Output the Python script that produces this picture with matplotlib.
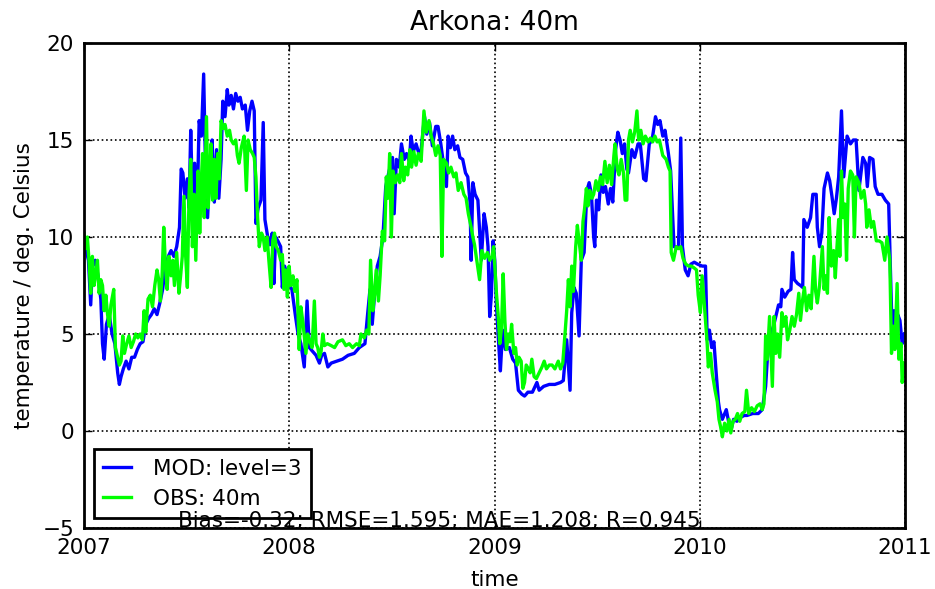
import numpy as np
import matplotlib
matplotlib.use('Agg')
import matplotlib.pyplot as plt
import matplotlib.dates as mdates

# model (level 3) and observed temperature at 40m, days since 2007-01-01
mod_days = [0, 4, 8, 12, 15, 20, 25, 30, 33, 36, 40, 45, 50, 55, 60, 63, 66, 70, 75, 80,
            85, 90, 95, 100, 105, 110, 115, 120, 125, 130, 135, 140, 145, 150, 155, 160, 165, 170, 173, 176,
            180, 184, 187, 190, 193, 197, 201, 205, 209, 213, 216, 220, 224, 228, 232, 236, 240, 244, 247, 251,
            255, 258, 262, 266, 270, 274, 278, 282, 287, 291, 295, 299, 303, 306, 310, 315, 319, 322, 327, 331,
            335, 338, 341, 345, 350, 353, 357, 362, 366, 370, 376, 381, 386, 392, 397, 401, 407, 413, 419, 423,
            428, 434, 440, 450, 460, 470, 481, 490, 500, 505, 509, 513, 517, 522, 527, 532, 537, 543, 549, 552,
            556, 561, 565, 570, 574, 579, 582, 586, 591, 596, 600, 606, 610, 615, 620, 626, 630, 635, 645, 648,
            652, 656, 660, 665, 669, 674, 679, 683, 687, 689, 692, 696, 701, 707, 712, 716, 719, 722, 725, 728,
            731, 734, 738, 741, 745, 750, 757, 763, 768, 773, 779, 784, 790, 798, 806, 810, 818, 828, 838, 848,
            853, 859, 865, 868, 872, 876, 881, 885, 890, 895, 899, 903, 907, 909, 912, 916, 920, 924, 928, 933,
            937, 941, 946, 950, 954, 958, 962, 966, 969, 975, 980, 986, 990, 996, 1000, 1006, 1011, 1017, 1021, 1025,
            1030, 1034, 1040, 1044, 1047, 1050, 1058, 1062, 1065, 1070, 1075, 1080, 1086, 1092, 1100, 1106, 1109, 1113, 1117, 1121,
            1125, 1129, 1131, 1136, 1143, 1147, 1151, 1156, 1162, 1168, 1175, 1180, 1190, 1200, 1207, 1213, 1216, 1222, 1227, 1236,
            1240, 1242, 1247, 1253, 1258, 1261, 1264, 1270, 1275, 1279, 1281, 1287, 1293, 1297, 1303, 1305, 1309, 1313, 1317, 1323,
            1327, 1331, 1335, 1339, 1343, 1348, 1352, 1358, 1364, 1369, 1374, 1376, 1379, 1386, 1391, 1394, 1398, 1404, 1408, 1413,
            1420, 1426, 1432, 1436, 1439, 1442, 1445, 1448, 1452, 1456, 1460]
mod_temp = [9.8, 9.3, 8.8, 6.5, 8.5, 8.8, 8.0, 6.8, 4.5, 3.7, 5.5, 6.0, 5.0, 4.5, 3.0, 2.4, 2.8, 3.2, 3.6, 3.2,
            3.8, 3.8, 4.2, 4.5, 4.6, 5.5, 5.8, 6.0, 6.3, 6.0, 6.6, 7.3, 8.5, 9.0, 9.3, 9.0, 9.5, 10.5, 13.5, 13.3,
            12.0, 13.0, 11.5, 15.5, 12.0, 13.8, 11.0, 16.0, 15.2, 18.4, 14.0, 11.0, 13.5, 15.0, 11.8, 14.5, 12.0, 14.0, 17.0, 16.2,
            17.6, 16.8, 17.3, 16.6, 17.4, 17.0, 17.2, 16.6, 16.8, 15.5, 16.5, 17.0, 16.5, 10.7, 11.5, 11.9, 15.9, 10.9, 10.0, 9.6,
            10.2, 7.6, 10.0, 9.8, 9.5, 7.4, 8.5, 8.0, 7.5, 7.3, 6.0, 5.0, 4.5, 3.3, 6.7, 4.3, 4.1, 3.9, 3.5, 3.9,
            4.0, 3.3, 3.5, 3.6, 3.7, 3.9, 4.0, 4.3, 4.5, 6.1, 7.3, 5.5, 7.0, 8.5, 9.0, 10.0, 12.6, 13.4, 14.1, 11.2,
            14.0, 13.6, 14.8, 14.0, 14.3, 13.9, 15.2, 14.4, 14.8, 14.3, 14.5, 16.2, 15.3, 15.9, 14.7, 15.7, 15.7, 14.8, 12.6, 15.2,
            14.6, 15.2, 14.5, 14.7, 14.1, 14.0, 13.3, 13.1, 11.8, 8.8, 12.8, 12.2, 11.9, 8.8, 11.2, 10.5, 9.5, 5.9, 7.0, 9.8,
            8.8, 6.5, 4.5, 3.1, 5.2, 4.2, 4.3, 3.7, 3.5, 2.1, 1.9, 1.8, 2.0, 2.0, 2.5, 2.1, 2.3, 2.4, 2.4, 2.5,
            2.6, 4.7, 2.1, 6.1, 7.4, 7.1, 4.9, 8.8, 9.2, 12.4, 12.8, 12.2, 10.0, 9.5, 11.9, 11.4, 13.2, 12.3, 12.6, 11.7,
            12.5, 11.8, 14.5, 15.4, 15.0, 14.3, 14.8, 13.5, 13.3, 14.5, 14.1, 14.8, 14.8, 13.0, 12.9, 14.8, 15.0, 16.2, 15.8, 16.0,
            15.2, 15.5, 14.3, 13.4, 11.5, 9.5, 9.5, 15.1, 9.5, 8.3, 8.0, 8.6, 8.7, 8.6, 8.5, 8.5, 4.7, 5.2, 4.3, 4.6,
            3.0, 1.5, 1.1, 0.6, 1.1, 0.5, 0.0, 0.6, 0.5, 0.7, 0.8, 0.8, 0.9, 0.9, 1.1, 2.3, 3.7, 5.0, 5.4, 6.5,
            6.4, 7.3, 6.9, 7.2, 7.3, 9.2, 7.8, 7.6, 7.5, 7.4, 10.9, 10.5, 11.0, 12.2, 12.2, 10.5, 9.5, 10.2, 12.5, 13.3,
            12.9, 12.1, 11.2, 12.0, 13.1, 16.5, 13.1, 15.2, 14.8, 15.0, 15.0, 14.0, 12.4, 14.1, 13.8, 12.6, 14.1, 14.0, 12.6, 12.2,
            12.2, 11.9, 11.7, 7.3, 4.3, 6.2, 5.0, 6.0, 5.7, 4.5, 5.0]

obs_days = [0, 3, 6, 9, 12, 15, 18, 21, 24, 27, 30, 33, 36, 39, 42, 45, 48, 53, 56, 60,
            63, 66, 69, 72, 76, 80, 84, 88, 92, 96, 100, 104, 107, 110, 114, 118, 122, 126, 130, 133,
            136, 139, 142, 145, 148, 151, 155, 158, 161, 165, 169, 172, 175, 178, 181, 184, 187, 190, 193, 196,
            199, 203, 206, 209, 211, 214, 218, 221, 223, 226, 229, 232, 235, 238, 241, 244, 248, 251, 255, 259,
            262, 266, 270, 273, 276, 280, 285, 289, 292, 296, 300, 303, 306, 309, 312, 316, 319, 322, 326, 329,
            333, 336, 339, 342, 346, 350, 353, 356, 359, 362, 365, 368, 372, 375, 379, 383, 386, 390, 395, 398,
            402, 406, 410, 413, 416, 419, 422, 425, 428, 433, 440, 446, 452, 460, 466, 472, 478, 485, 490, 493,
            499, 503, 507, 510, 514, 517, 520, 524, 527, 531, 535, 538, 541, 544, 547, 550, 554, 558, 562, 565,
            569, 572, 576, 580, 583, 587, 591, 595, 600, 605, 609, 614, 618, 622, 626, 630, 634, 637, 640, 645,
            649, 653, 658, 662, 666, 671, 676, 680, 684, 689, 692, 695, 699, 704, 708, 713, 718, 722, 726, 729,
            734, 737, 740, 743, 746, 749, 752, 755, 758, 761, 765, 768, 771, 774, 778, 781, 784, 787, 791, 794,
            797, 801, 805, 810, 815, 819, 823, 828, 833, 838, 844, 848, 852, 856, 859, 862, 865, 868, 871, 875,
            878, 881, 885, 888, 891, 894, 897, 900, 904, 907, 911, 915, 919, 923, 927, 931, 935, 939, 943, 945,
            949, 952, 956, 960, 963, 966, 969, 972, 976, 980, 984, 987, 991, 995, 999, 1004, 1008, 1012, 1016, 1020,
            1024, 1030, 1036, 1040, 1043, 1045, 1049, 1054, 1058, 1062, 1066, 1071, 1076, 1081, 1086, 1090, 1093, 1097, 1100, 1104,
            1109, 1111, 1115, 1118, 1123, 1127, 1130, 1133, 1136, 1140, 1144, 1148, 1151, 1155, 1159, 1163, 1167, 1171, 1176, 1179,
            1183, 1188, 1193, 1198, 1203, 1207, 1210, 1213, 1216, 1220, 1222, 1225, 1228, 1231, 1234, 1238, 1242, 1245, 1249, 1252,
            1256, 1260, 1264, 1268, 1272, 1275, 1279, 1282, 1286, 1290, 1294, 1299, 1302, 1305, 1309, 1314, 1317, 1320, 1323, 1326,
            1330, 1334, 1337, 1340, 1343, 1345, 1348, 1351, 1354, 1357, 1360, 1364, 1368, 1371, 1374, 1379, 1383, 1388, 1391, 1393,
            1397, 1401, 1405, 1410, 1415, 1420, 1425, 1429, 1434, 1437, 1440, 1443, 1447, 1450, 1454, 1456, 1460]
obs_temp = [10.2, 9.4, 10.0, 8.8, 7.1, 9.0, 7.5, 8.1, 8.8, 7.1, 7.8, 7.5, 6.2, 7.0, 6.0, 5.4, 6.5, 7.3, 4.3, 3.8,
            3.4, 3.6, 4.9, 4.0, 4.5, 4.9, 4.3, 4.6, 5.0, 4.8, 5.0, 4.7, 6.2, 5.1, 6.8, 7.0, 6.4, 7.5, 8.3, 7.8,
            6.7, 8.0, 10.5, 8.5, 7.3, 9.0, 8.0, 8.8, 7.5, 9.2, 7.1, 8.0, 9.0, 12.1, 9.0, 7.4, 12.2, 14.0, 9.5, 12.2,
            8.8, 13.4, 10.2, 13.0, 14.3, 11.0, 16.2, 11.5, 12.4, 14.8, 11.9, 14.0, 12.0, 14.3, 13.0, 16.0, 15.6, 15.8, 15.2, 15.5,
            15.0, 14.8, 15.0, 14.2, 13.8, 14.6, 15.2, 12.4, 15.0, 14.5, 14.3, 14.1, 13.1, 11.0, 9.5, 10.2, 10.0, 9.3, 10.0, 8.8,
            7.4, 9.8, 10.2, 9.5, 9.3, 8.8, 9.1, 7.3, 8.3, 6.9, 8.5, 7.5, 8.0, 7.2, 7.8, 4.2, 6.4, 5.5, 4.0, 5.0,
            4.6, 4.3, 6.7, 4.5, 4.3, 3.8, 4.1, 5.0, 4.4, 4.5, 4.4, 4.3, 4.6, 4.7, 4.4, 4.5, 4.3, 4.5, 4.4, 5.0,
            4.8, 5.2, 5.0, 8.8, 6.2, 7.0, 8.3, 6.7, 8.0, 10.3, 9.8, 13.1, 12.0, 14.3, 10.0, 13.4, 12.8, 13.2, 12.8, 14.3,
            12.9, 13.6, 13.2, 14.5, 13.6, 14.4, 13.7, 14.3, 13.9, 16.5, 15.4, 16.0, 15.2, 14.8, 14.2, 14.7, 14.2, 9.0, 14.0, 13.8,
            13.3, 13.6, 13.1, 13.3, 12.4, 12.8, 12.2, 12.0, 11.2, 10.5, 10.0, 9.6, 8.8, 7.8, 9.3, 8.9, 9.2, 8.8, 9.0, 9.5,
            7.1, 6.0, 4.5, 5.3, 8.1, 5.7, 4.2, 5.0, 4.6, 5.5, 4.0, 4.3, 3.4, 3.8, 3.6, 2.2, 2.5, 3.4, 3.2, 3.0,
            3.7, 2.8, 2.7, 3.0, 3.3, 3.6, 3.2, 3.4, 3.4, 3.2, 3.6, 3.2, 3.5, 5.0, 6.2, 7.8, 6.4, 8.5, 7.2, 9.5,
            10.6, 9.8, 8.8, 10.8, 11.5, 12.5, 11.6, 12.4, 12.0, 12.2, 12.9, 12.4, 13.1, 12.7, 13.9, 12.8, 13.7, 12.7, 14.2, 14.8,
            13.5, 13.2, 14.0, 13.3, 11.9, 11.9, 15.0, 15.5, 14.9, 15.4, 16.5, 15.0, 15.5, 14.8, 15.2, 14.9, 15.1, 14.9, 15.2, 14.9,
            15.0, 14.2, 14.0, 13.6, 13.4, 9.2, 8.8, 9.5, 9.4, 9.5, 8.9, 8.6, 8.5, 8.5, 8.4, 8.3, 7.0, 6.1, 8.0, 6.5,
            4.5, 3.3, 4.0, 3.0, 2.1, 1.5, 0.6, 0.2, -0.3, 0.4, 0.0, 0.6, -0.1, 0.5, 0.6, 0.9, 0.5, 0.9, 1.0, 2.1,
            0.9, 1.2, 1.0, 1.3, 1.4, 1.1, 1.4, 4.9, 3.7, 5.9, 4.5, 2.3, 5.9, 4.0, 5.0, 3.8, 6.1, 5.4, 5.9, 4.7,
            5.2, 5.9, 5.4, 6.0, 7.1, 5.7, 6.8, 7.4, 6.2, 7.0, 6.3, 9.0, 7.2, 6.6, 7.5, 9.5, 7.3, 8.0, 7.1, 11.0,
            8.5, 9.3, 7.9, 9.5, 10.9, 9.0, 13.4, 11.0, 11.7, 8.8, 12.5, 13.4, 13.2, 10.0, 13.1, 12.8, 12.0, 12.4, 11.7, 10.5,
            11.4, 10.5, 10.8, 9.8, 9.8, 9.7, 8.8, 10.0, 8.8, 4.0, 5.4, 4.2, 7.6, 3.7, 4.5, 2.5, 3.5]

stats_text = 'Bias=-0.32; RMSE=1.595; MAE=1.208; R=0.945'
year_ticks = ['2007', '2008', '2009', '2010', '2011']

start = np.datetime64('2007-01-01')
mod_t = start + np.array(mod_days).astype('timedelta64[D]')
obs_t = start + np.array(obs_days).astype('timedelta64[D]')

plt.rcParams['font.family'] = 'DejaVu Sans'
plt.rcParams['font.size'] = 15.5

fig = plt.figure(figsize=(9.35, 5.89), dpi=100)
ax = fig.add_axes([0.0898, 0.1036, 0.8781, 0.8234])

ax.plot(mod_t, mod_temp, color='#0000ff', lw=2.4, label='MOD: level=3')
ax.plot(obs_t, obs_temp, color='#00ff00', lw=2.4, label='OBS: 40m')

ax.set_xlim(np.datetime64('2007-01-01'), np.datetime64('2011-01-01'))
ax.set_ylim(-5, 20)
ax.set_yticks([-5, 0, 5, 10, 15, 20])
ax.set_xticks([np.datetime64(y + '-01-01') for y in year_ticks])
ax.xaxis.set_major_formatter(mdates.DateFormatter('%Y'))

ax.grid(True, color='black', linestyle=':', linewidth=1.2)
ax.tick_params(direction='in', top=True, right=True, length=6, width=1, pad=7)
for s in ax.spines.values():
    s.set_linewidth(2)

ax.set_title('Arkona: 40m', fontsize=19, pad=9)
ax.set_xlabel('time', labelpad=9)
ax.set_ylabel('temperature / deg. Celsius', labelpad=6)

leg = ax.legend(loc='lower left', fancybox=False, handlelength=1.3, handletextpad=1.0,
                borderaxespad=0.45, borderpad=0.45, labelspacing=0.45)
leg.get_frame().set_edgecolor('black')
leg.get_frame().set_linewidth(2)
leg.get_frame().set_alpha(None)

ax.text(0.1145, -0.006, stats_text, transform=ax.transAxes, ha='left', va='bottom', zorder=10)

fig.savefig('out.png', dpi=100)
